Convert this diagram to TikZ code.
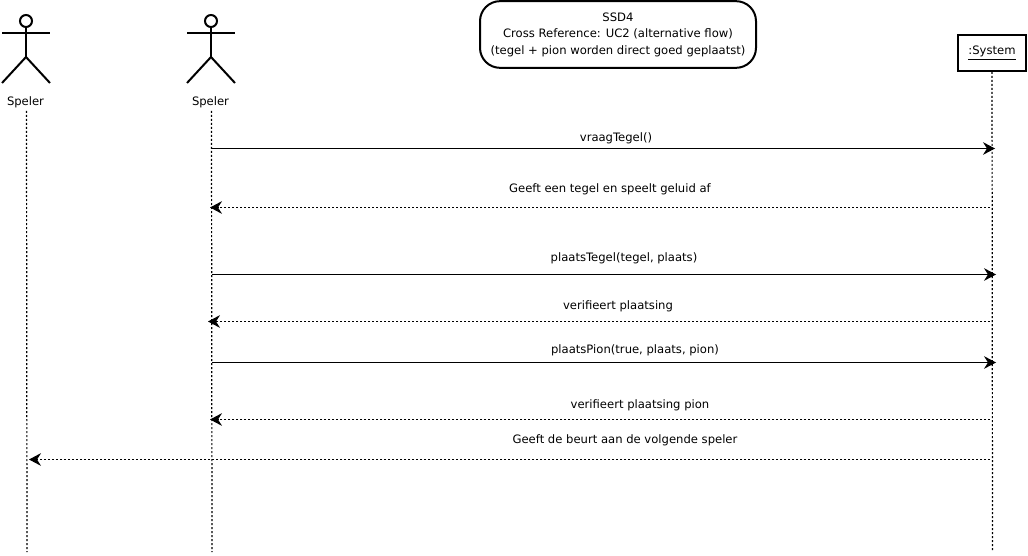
\documentclass[tikz,border=0pt]{standalone}
\usepackage{fontspec}
\setmainfont{DejaVu Sans}
\usetikzlibrary{positioning, arrows.meta}

\begin{document}
\begin{tikzpicture}[
        x=0.75pt, y=-0.75pt,
        every node/.style={font=\fontsize{8.7}{12.4}\selectfont},
        lifeline/.style={draw=black, line width=0.9pt, dash pattern=on 1.5pt off 1.5pt},
        call/.style={draw=black, line width=0.85pt, -{Stealth[length=9pt, width=9.5pt, inset=3pt]}},
        reply/.style={call, dash pattern=on 1.5pt off 1.5pt},
        msg/.style={inner sep=0pt, anchor=center},
        limb/.style={draw=black, line width=1.5pt},
        actorname/.style={inner sep=0pt, anchor=center},
        titlebox/.style={rectangle, draw=black, line width=1.5pt, rounded corners=15pt, align=center, minimum width=207pt, minimum height=50pt, inner sep=0pt},
        objbox/.style={rectangle, draw=black, line width=1.5pt, minimum width=51pt, minimum height=27pt, inner sep=0pt},
        actor/.pic={
            \draw[limb] (0,0) circle (6);
            \draw[limb] (0,6) -- (0,36);
            \draw[limb] (-24,12) -- (24,12);
            \draw[limb] (-24,62) -- (0,36) -- (24,62);
        }
    ]
        \useasboundingbox (0,0) rectangle (1028,556);
        % Actors
        \pic at (26,21) {actor};
        \pic at (211,21) {actor};
        \node[actorname] (speler1) at (25.5,102) {Speler};
        \node[actorname] (speler2) at (210.5,102) {Speler};
        % Title and system
        \node[titlebox] (title) at (618,34.5) {SSD4\\Cross Reference: UC2 (alternative flow)\\(tegel + pion worden direct goed geplaatst)};
        \node[objbox] (system) at (992,53) {\raisebox{-1pt}{\underline{:System}}};
        % Lifelines
        \coordinate (end1) at (27,552);
        \coordinate (end2) at (212,552);
        \coordinate (end3) at (992.5,550);
        \coordinate (top1) at (26.5,111);
        \coordinate (top2) at (211.5,111);
        \draw[lifeline] (top1) -- (end1);
        \draw[lifeline] (top2) -- (end2);
        \draw[lifeline] (system) -- (end3);
        % Message ends
        \coordinate (a1) at (212,148.5);  \coordinate (b1) at (995,148.5);
        \coordinate (a2) at (990,207.5);  \coordinate (b2) at (210,207.5);
        \coordinate (a3) at (212,274.5);  \coordinate (b3) at (996,274.5);
        \coordinate (a4) at (990,321.5);  \coordinate (b4) at (208,321.5);
        \coordinate (a5) at (212,362.5);  \coordinate (b5) at (996,362.5);
        \coordinate (a6) at (990,419.5);  \coordinate (b6) at (210,419.5);
        \coordinate (a7) at (990,459.5);  \coordinate (b7) at (29,459.5);
        % Messages
        \draw[call] (a1) -- (b1);
        \draw[reply] (a2) -- (b2);
        \draw[call] (a3) -- (b3);
        \draw[reply] (a4) -- (b4);
        \draw[call] (a5) -- (b5);
        \draw[reply] (a6) -- (b6);
        \draw[reply] (a7) -- (b7);
        % Message labels
        \node[msg] (m1) at (616,138.5) {vraagTegel()};
        \node[msg] (m2) at (610,189.5) {Geeft een tegel en speelt geluid af};
        \node[msg] (m3) at (624,258.5) {plaatsTegel(tegel, plaats)};
        \node[msg] (m4) at (618,306.5) {verifieert plaatsing};
        \node[msg] (m5) at (635,350.5) {plaatsPion(true, plaats, pion)};
        \node[msg] (m6) at (640,405.5) {verifieert plaatsing pion};
        \node[msg] (m7) at (625,440.5) {Geeft de beurt aan de volgende speler};
    \end{tikzpicture}
\end{document}
